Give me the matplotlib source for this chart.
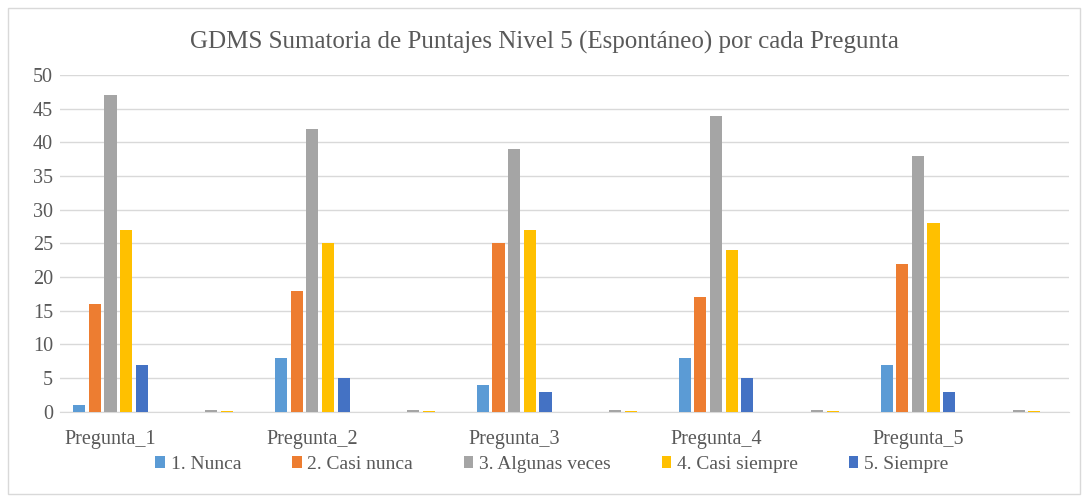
import numpy as np
import matplotlib.pyplot as plt
from matplotlib.patches import Rectangle

# categories: every question is followed by an unlabeled (near empty) slot
categories = ["Pregunta_1", "", "Pregunta_2", "", "Pregunta_3", "",
              "Pregunta_4", "", "Pregunta_5", ""]
series_names = ["1. Nunca", "2. Casi nunca", "3. Algunas veces",
                "4. Casi siempre", "5. Siempre"]
nunca = [1, 0, 8, 0, 4, 0, 8, 0, 7, 0]
casi_nunca = [16, 0, 18, 0, 25, 0, 17, 0, 22, 0]
algunas = [47, 0.3, 42, 0.3, 39, 0.3, 44, 0.3, 38, 0.3]
casi_siempre = [27, 0.1, 25, 0.1, 27, 0.1, 24, 0.1, 28, 0.1]
siempre = [7, 0, 5, 0, 3, 0, 5, 0, 3, 0]
colors = ["#5B9BD5", "#ED7D31", "#A5A5A5", "#FFC000", "#4472C4"]

plt.rcParams["font.family"] = "Liberation Serif"

fig = plt.figure(figsize=(10.84, 5.01), dpi=100)
ax = fig.add_axes([0.0554, 0.178, 0.931, 0.672])

x = np.arange(len(categories))
step = 0.155
width = 0.12
all_series = [nunca, casi_nunca, algunas, casi_siempre, siempre]
for i, (vals, name, c) in enumerate(zip(all_series, series_names, colors)):
    ax.bar(x + (i - 2) * step, vals, width=width, color=c, label=name, zorder=3)

ax.set_xlim(-0.5, len(categories) - 0.5)
ax.set_ylim(0, 50)
ax.set_yticks(range(0, 51, 5))
ax.set_xticks(x)
ax.set_xticklabels(categories)
ax.tick_params(axis="both", length=0, labelsize=14.5, colors="#595959")
ax.tick_params(axis="x", pad=13)
ax.tick_params(axis="y", pad=5)
ax.grid(axis="y", color="#D9D9D9", linewidth=1, zorder=0)
for s in ["top", "right", "left"]:
    ax.spines[s].set_visible(False)
ax.spines["bottom"].set_color("#D9D9D9")

fig.text(0.502, 0.915, "GDMS Sumatoria de Puntajes Nivel 5 (Espontáneo) por cada Pregunta",
         ha="center", va="center", fontsize=18, color="#595959")

fig.legend(loc="center", bbox_to_anchor=(0.509, 0.073), ncol=5, frameon=False,
           handlelength=0.5, handleheight=0.5, handletextpad=0.3, columnspacing=2.6,
           fontsize=14, labelcolor="#595959")

fig.patches.append(Rectangle((0.0074, 0.014), 0.989, 0.97, transform=fig.transFigure,
                             fill=False, edgecolor="#D9D9D9", linewidth=1))

fig.savefig("out.png", dpi=100)
